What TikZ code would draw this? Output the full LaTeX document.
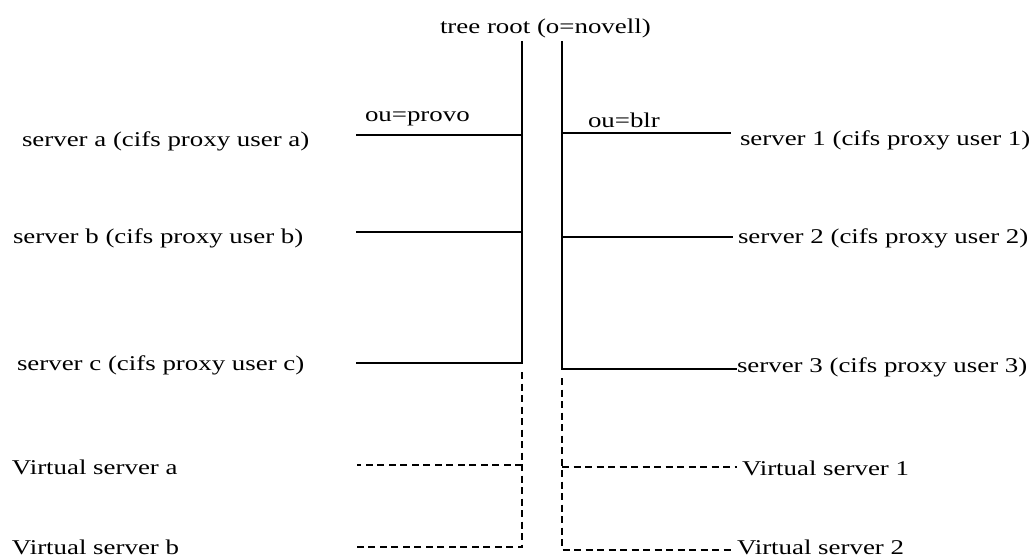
\documentclass[tikz,border=0pt]{standalone}
\usepackage{fontspec}
\setmainfont{Liberation Serif}[FakeStretch=1.28]
\begin{document}
\begin{tikzpicture}[x=1pt,y=-1pt,
  lbl/.style={anchor=base west,inner sep=0pt,outer sep=0pt,font=\fontsize{21}{25}\selectfont},
  solidln/.style={line width=1.5pt,line cap=rect},
  dashln/.style={line width=1.5pt,dash pattern=on 7pt off 4.5pt}]
\useasboundingbox[fill=white] (0,0) rectangle (1034,558);
% texts
\node[lbl] (root) at (440,33) {tree root (o=novell)};
\node[lbl] (provo) at (365,121) {ou=provo};
\node[lbl] (blr) at (588,127) {ou=blr};
\node[lbl] (sa) at (22,146) {server a (cifs proxy user a)};
\node[lbl] (sb) at (13,243) {server b (cifs proxy user b)};
\node[lbl] (sc) at (17,370) {server c (cifs proxy user c)};
\node[lbl] (s1) at (740,145) {server 1 (cifs proxy user 1)};
\node[lbl] (s2) at (738,243) {server 2 (cifs proxy user 2)};
\node[lbl] (s3) at (737,372) {server 3 (cifs proxy user 3)};
\node[lbl] (va) at (12,474) {Virtual server a};
\node[lbl] (vb) at (12,554) {Virtual server b};
\node[lbl] (v1) at (742,475) {Virtual server 1};
\node[lbl] (v2) at (737,554) {Virtual server 2};
% junction coordinates
\coordinate (Ltop) at (522,42);
\coordinate (La) at (522,135);
\coordinate (Lb) at (522,232);
\coordinate (Lc) at (522,363);
\coordinate (LaE) at (357,135);
\coordinate (LbE) at (357,232);
\coordinate (LcE) at (357,363);
\coordinate (Rtop) at (562,42);
\coordinate (R1) at (562,133);
\coordinate (R2) at (562,237);
\coordinate (R3) at (562,369);
\coordinate (R1E) at (730,133);
\coordinate (R2E) at (732,237);
\coordinate (R3E) at (736,369);
\coordinate (LdTop) at (522,372);
\coordinate (Lva) at (522,465);
\coordinate (Lvb) at (522,547);
\coordinate (LvaE) at (357,465);
\coordinate (LvbE) at (357,547);
\coordinate (RdTop) at (562,378);
\coordinate (Rv1) at (562,467);
\coordinate (Rv2) at (562,550);
\coordinate (Rv1E) at (737,467);
\coordinate (Rv2E) at (735,550);
% solid tree
\draw[solidln] (Ltop) -- (Lc) -- (LcE);
\draw[solidln] (La) -- (LaE);
\draw[solidln] (Lb) -- (LbE);
\draw[solidln] (Rtop) -- (R3) -- (R3E);
\draw[solidln] (R1) -- (R1E);
\draw[solidln] (R2) -- (R2E);
% dashed virtual servers
\draw[dashln] (LdTop) -- (Lvb) -- (LvbE);
\draw[dashln] (Lva) -- (LvaE);
\draw[dashln] (RdTop) -- (Rv2) -- (Rv2E);
\draw[dashln] (Rv1) -- (Rv1E);
\end{tikzpicture}
\end{document}
